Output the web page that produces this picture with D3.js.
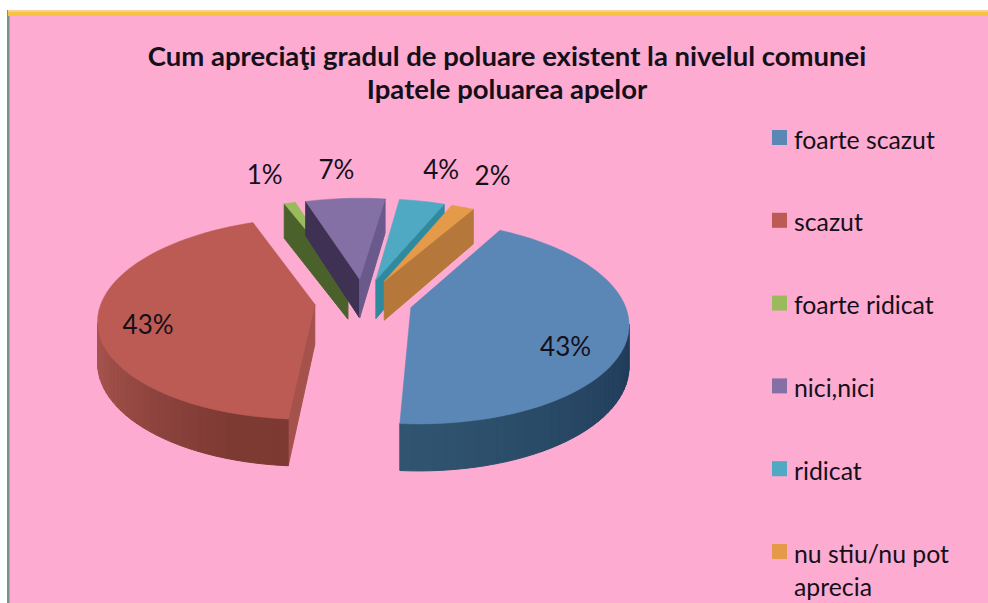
<!DOCTYPE html>
<html><head><meta charset="utf-8">
<script src="https://cdn.jsdelivr.net/npm/d3@7"></script>
<style>html,body{margin:0;padding:0;background:#fff;overflow:hidden}svg{display:block}text{font-family:Lato,"Open Sans",sans-serif;fill:#14101a}</style>
</head><body><svg id="c" width="988" height="603"></svg>
<script>
const categories = ["foarte scazut","scazut","foarte ridicat","nici,nici","ridicat","nu stiu/nu pot aprecia"];
const values = [43,43,1,7,4,2];
const labels = ["43%","43%","1%","7%","4%","2%"];
const titleLines = ["Cum apreciaţi gradul de poluare existent la nivelul comunei","Ipatele poluarea apelor"];
const topColors = ["#5b87b7","#bc5b53","#9aba5c","#8570a6","#4fa9c3","#e59a4a"];
const wallFrom = ["#305571","#a5524d","#4b612b","#3e3154","#3b8fa6","#b5783a"];
const wallTo = ["#1f3a58","#7d3a33","#4b612b","#3e3154","#3b8fa6","#b5783a"];
const faceStart = ["#1f3a58","#a5524d","#4b612b","#3e3154","#2f8095","#b5783a"];
const faceEnd = ["#2f5270","#a5524d","#4b612b","#6a5a8c","#2f8a9f","#b5783a"];

const svg = d3.select("#c");
svg.append("rect").attr("x",8).attr("y",11).attr("width",980).attr("height",592).attr("fill","#fdabd1");
svg.append("rect").attr("x",7).attr("y",10).attr("width",2.5).attr("height",593).attr("fill","#7d9283");
svg.append("rect").attr("x",8).attr("y",10).attr("width",980).attr("height",2).attr("fill","#f8cf9c");
svg.append("rect").attr("x",8).attr("y",12).attr("width",980).attr("height",4).attr("fill","#f7c43e");

svg.selectAll("text.title").data(titleLines).join("text").attr("class","title")
  .attr("x",507).attr("y",(d,i)=>66+i*33).attr("text-anchor","middle")
  .attr("font-size",27.5).attr("font-weight",700).text(d=>d);

// perspective projection of the tilted pie
const sx = d3.scaleLinear().domain([-1,1]).range([363.5-213,363.5+213]);
const sy = d3.scaleLinear().domain([-1,1]).range([301-98,301+98]);
const persp = 0.14, explode = 0.23, thick = 40;
function project(u,v,z){
  const s = 1/(1-persp*v);
  return [sx(u*s), sy(v*s)+z*thick*s];
}
const startRad = 29.5*Math.PI/180;
const pie = d3.pie().sort(null).value(d=>d).startAngle(startRad).endAngle(startRad+2*Math.PI);
const arcs = pie(values);
const deg = Math.PI/180;
const visible = poly => d3.polygonArea(poly) < 0;
const line = pts => "M"+pts.map(p=>p.join(",")).join("L")+"Z";

function drawSlice(a){
  const i = a.index, mid=(a.startAngle+a.endAngle)/2;
  const ox=Math.sin(mid)*explode, oy=-Math.cos(mid)*explode;
  const P=(ang,r,z)=>project(ox+Math.sin(ang)*r, oy-Math.cos(ang)*r, z);
  const g = svg.append("g").attr("class","slice");
  const n=Math.max(2,Math.ceil((a.endAngle-a.startAngle)/(2.5*deg)));
  const angs=d3.range(n+1).map(k=>a.startAngle+(a.endAngle-a.startAngle)*k/n);
  const drawFace=(poly,color)=>{ if(visible(poly)) g.append("path").attr("d",line(poly)).attr("fill",color).attr("stroke",color).attr("stroke-width",1); };
  drawFace([P(a.startAngle,1,0),P(0,0,0),P(0,0,1),P(a.startAngle,1,1)],faceStart[i]);
  drawFace([P(0,0,0),P(a.endAngle,1,0),P(a.endAngle,1,1),P(0,0,1)],faceEnd[i]);
  const col=d3.scaleLinear().domain([a.startAngle,a.endAngle]).range([0,1]);
  const ci=d3.interpolateRgb(wallTo[i],wallFrom[i]);
  for(let k=0;k<n;k++){
    const poly=[P(angs[k+1],1,0),P(angs[k],1,0),P(angs[k],1,1),P(angs[k+1],1,1)];
    const t=col(angs[k]);
    const c = i===1 ? ci(d3.scaleLinear().domain([0.08,0.42]).range([0,1]).clamp(true)(t))
                    : ci(d3.scaleLinear().domain([0.45,0.98]).range([0,1]).clamp(true)(t));
    drawFace(poly,c);
  }
  const top=[P(0,0,0)].concat(angs.map(t=>P(t,1,0)));
  g.append("path").attr("d",line(top)).attr("fill",topColors[i]).attr("stroke",topColors[i]).attr("stroke-width",.5);
}
[2,3,4,5,1,0].forEach(i=>drawSlice(arcs[i]));

const labelRadius=[0.80,0.62,1.33,1.29,1.31,1.36];
const labelShift=[0,-14,0,0,0,0];
const labelNudgeX=[-17,-40,-20,-8,16,21];
const labelNudgeY=[15,-9,-21,-24,-26,-23];
arcs.forEach((a,i)=>{
  const mid=(a.startAngle+a.endAngle)/2+labelShift[i]*deg;
  const r=labelRadius[i]+explode*(i<2?1:0);
  const p=project(Math.sin(mid)*r,-Math.cos(mid)*r,0);
  svg.append("text").attr("class","lab").attr("x",p[0]+labelNudgeX[i]).attr("y",p[1]+labelNudgeY[i]).attr("dy","0.35em")
    .attr("text-anchor","middle").attr("font-size",26).text(labels[i]);
});

// legend
const legendY=d3.scalePoint().domain(categories).range([130,544]);
const rows=svg.selectAll("g.leg").data(categories).join("g").attr("class","leg")
  .attr("transform",d=>`translate(772,${legendY(d)})`);
rows.append("rect").attr("width",15).attr("height",15).attr("fill",(d,i)=>topColors[i]);
rows.append("text").attr("x",22).attr("y",18.5).attr("font-size",24.8)
  .each(function(d){
    const parts = d==="nu stiu/nu pot aprecia" ? ["nu stiu/nu pot","aprecia"] : [d];
    d3.select(this).selectAll("tspan").data(parts).join("tspan").attr("x",22).attr("dy",(p,j)=>j?33:0).text(p=>p);
  });
</script></body></html>
